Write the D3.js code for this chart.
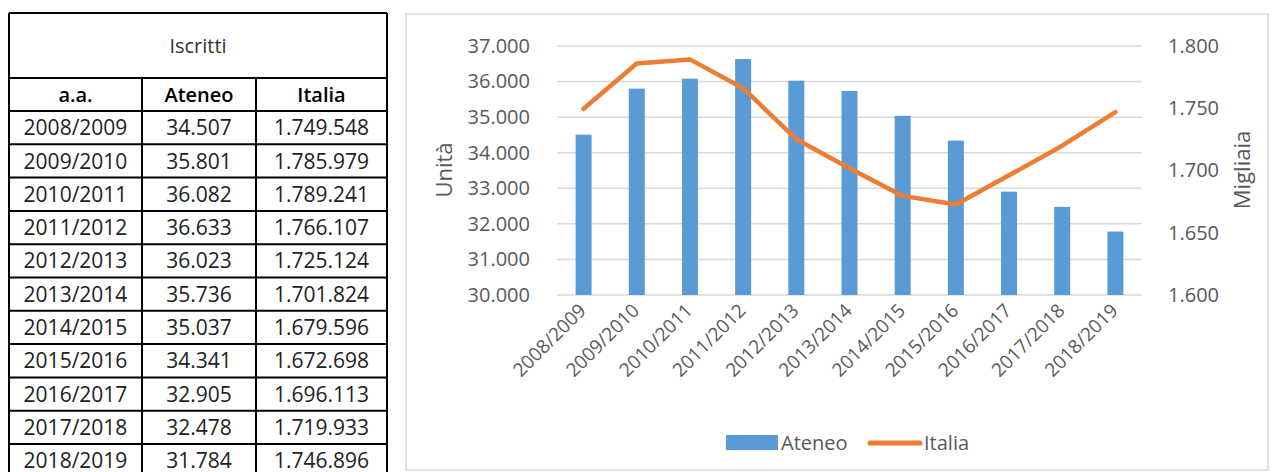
<!DOCTYPE html>
<html>
<head>
<meta charset="utf-8">
<script src="https://cdn.jsdelivr.net/npm/d3@7"></script>
<style>
  body { margin: 0; background: #fff; }
  text { font-family: "Open Sans", sans-serif; }
</style>
</head>
<body>
<div id="chart"></div>
<script>
// Data
const years = ["2008/2009", "2009/2010", "2010/2011", "2011/2012", "2012/2013", "2013/2014",
               "2014/2015", "2015/2016", "2016/2017", "2017/2018", "2018/2019"];
const ateneo = [34507, 35801, 36082, 36633, 36023, 35736, 35037, 34341, 32905, 32478, 31784];
const italia = [1749548, 1785979, 1789241, 1766107, 1725124, 1701824, 1679596, 1672698, 1696113, 1719933, 1746896];
const leftTicks = [30000, 31000, 32000, 33000, 34000, 35000, 36000, 37000];
const rightTicks = [1600, 1650, 1700, 1750, 1800];

const width = 1272;
const height = 472;

const it = d3.formatLocale({ decimal: ",", thousands: ".", grouping: [3], currency: ["€", ""] });
const fmt = it.format(",");

const svg = d3.select("#chart")
    .append("svg")
    .attr("width", width)
    .attr("height", height);

// ---------- Table ----------
const tbl = { left: 9, top: 13, titleH: 65, headH: 33, rowH: 33.3 };
const colX = [9, 142, 256, 387];
const rowsTop = tbl.top + tbl.titleH + tbl.headH;
const tableBottom = rowsTop + years.length * tbl.rowH;

const tg = svg.append("g");

const rowY = d3.scaleBand()
    .domain(years)
    .range([rowsTop, tableBottom])
    .paddingInner(0);

// horizontal lines
const hLines = [tbl.top, tbl.top + tbl.titleH, rowsTop].concat(years.map(y => rowY(y) + rowY.bandwidth()));
tg.selectAll("line.h")
    .data(hLines)
    .join("line")
    .attr("x1", colX[0]).attr("x2", colX[3])
    .attr("y1", d => d).attr("y2", d => d)
    .attr("stroke", "#000").attr("stroke-width", 2);

// vertical lines
tg.selectAll("line.v")
    .data(colX)
    .join("line")
    .attr("x1", d => d).attr("x2", d => d)
    .attr("y1", (d, i) => (i === 0 || i === 3) ? tbl.top : tbl.top + tbl.titleH)
    .attr("y2", tableBottom)
    .attr("stroke", "#000").attr("stroke-width", 2);

tg.append("text")
    .attr("x", (colX[0] + colX[3]) / 2)
    .attr("y", tbl.top + tbl.titleH / 2)
    .attr("dy", "0.35em")
    .attr("text-anchor", "middle")
    .attr("font-size", 20)
    .attr("fill", "#333")
    .text("Iscritti");

const colMid = [0, 1, 2].map(i => (colX[i] + colX[i + 1]) / 2);
tg.selectAll("text.head")
    .data(["a.a.", "Ateneo", "Italia"])
    .join("text")
    .attr("x", (d, i) => colMid[i])
    .attr("y", tbl.top + tbl.titleH + tbl.headH / 2)
    .attr("dy", "0.36em")
    .attr("text-anchor", "middle")
    .attr("font-size", 20)
    .attr("font-weight", 600)
    .attr("fill", "#000")
    .text(d => d);

const rows = tg.selectAll("g.row")
    .data(years.map((y, i) => [y, fmt(ateneo[i]), fmt(italia[i])]))
    .join("g")
    .attr("transform", d => `translate(0, ${rowY(d[0]) + rowY.bandwidth() / 2})`);

rows.selectAll("text")
    .data(d => d)
    .join("text")
    .attr("x", (d, i) => colMid[i])
    .attr("dy", "0.36em")
    .attr("text-anchor", "middle")
    .attr("font-size", 21)
    .attr("fill", "#222")
    .text(d => d);

// ---------- Chart ----------
svg.append("rect")
    .attr("x", 406).attr("y", 14)
    .attr("width", 862).attr("height", 456)
    .attr("fill", "#fff")
    .attr("stroke", "#d9d9d9")
    .attr("stroke-width", 1.5);

const plot = { left: 557, right: 1142, top: 46, bottom: 295 };

const x = d3.scaleBand()
    .domain(years)
    .range([plot.left, plot.right]);

const yLeft = d3.scaleLinear()
    .domain([30000, 37000])
    .range([plot.bottom, plot.top]);

const yRight = d3.scaleLinear()
    .domain([1600, 1800])
    .range([plot.bottom, plot.top]);

// gridlines
svg.append("g")
    .selectAll("line")
    .data(leftTicks)
    .join("line")
    .attr("x1", plot.left).attr("x2", plot.right)
    .attr("y1", d => yLeft(d)).attr("y2", d => yLeft(d))
    .attr("stroke", "#d9d9d9")
    .attr("stroke-width", 1.5);

// left axis
const axL = svg.append("g")
    .attr("transform", `translate(${plot.left - 24}, 0)`)
    .call(d3.axisLeft(yLeft).tickValues(leftTicks).tickFormat(fmt).tickSize(0));
axL.select(".domain").remove();
axL.selectAll("text")
    .attr("font-family", "Open Sans, sans-serif")
    .attr("font-size", 20)
    .attr("fill", "#595959");

// right axis
const axR = svg.append("g")
    .attr("transform", `translate(${plot.right + 23}, 0)`)
    .call(d3.axisRight(yRight).tickValues(rightTicks).tickFormat(fmt).tickSize(0));
axR.select(".domain").remove();
axR.selectAll("text")
    .attr("font-family", "Open Sans, sans-serif")
    .attr("font-size", 20)
    .attr("fill", "#595959");

// bottom axis labels
const axB = svg.append("g")
    .attr("transform", `translate(0, ${plot.bottom})`)
    .call(d3.axisBottom(x).tickSize(0).tickPadding(0));
axB.select(".domain").remove();
axB.selectAll("text")
    .attr("font-family", "Open Sans, sans-serif")
    .attr("font-size", 19)
    .attr("fill", "#595959")
    .attr("text-anchor", "end")
    .attr("transform", "translate(-1, 12) rotate(-45)")
    .attr("dy", "0.35em");

// bars
const barW = 16;
svg.append("g")
    .selectAll("rect")
    .data(years)
    .join("rect")
    .attr("x", (d) => x(d) + x.bandwidth() / 2 - barW / 2)
    .attr("width", barW)
    .attr("y", (d, i) => yLeft(ateneo[i]))
    .attr("height", (d, i) => yLeft(30000) - yLeft(ateneo[i]))
    .attr("fill", "#5b9bd5");

// line
const line = d3.line()
    .x((d, i) => x(years[i]) + x.bandwidth() / 2)
    .y(d => yRight(d / 1000));

svg.append("path")
    .datum(italia)
    .attr("fill", "none")
    .attr("stroke", "#ed7d31")
    .attr("stroke-width", 4.5)
    .attr("stroke-linejoin", "round")
    .attr("stroke-linecap", "round")
    .attr("d", line);

// axis titles
svg.append("text")
    .attr("transform", "translate(452, 170) rotate(-90)")
    .attr("text-anchor", "middle")
    .attr("font-size", 22)
    .attr("fill", "#595959")
    .text("Unità");

svg.append("text")
    .attr("transform", "translate(1250, 170) rotate(-90)")
    .attr("text-anchor", "middle")
    .attr("font-size", 22)
    .attr("fill", "#595959")
    .text("Migliaia");

// legend
const lg = svg.append("g");
lg.append("rect")
    .attr("x", 726).attr("y", 435)
    .attr("width", 52).attr("height", 15)
    .attr("fill", "#5b9bd5");
lg.append("text")
    .attr("x", 781).attr("y", 443)
    .attr("dy", "0.35em")
    .attr("font-size", 20)
    .attr("fill", "#595959")
    .text("Ateneo");
lg.append("line")
    .attr("x1", 870).attr("x2", 920)
    .attr("y1", 443).attr("y2", 443)
    .attr("stroke", "#ed7d31")
    .attr("stroke-width", 5)
    .attr("stroke-linecap", "round");
lg.append("text")
    .attr("x", 924).attr("y", 443)
    .attr("dy", "0.35em")
    .attr("font-size", 20)
    .attr("fill", "#595959")
    .text("Italia");
</script>
</body>
</html>
